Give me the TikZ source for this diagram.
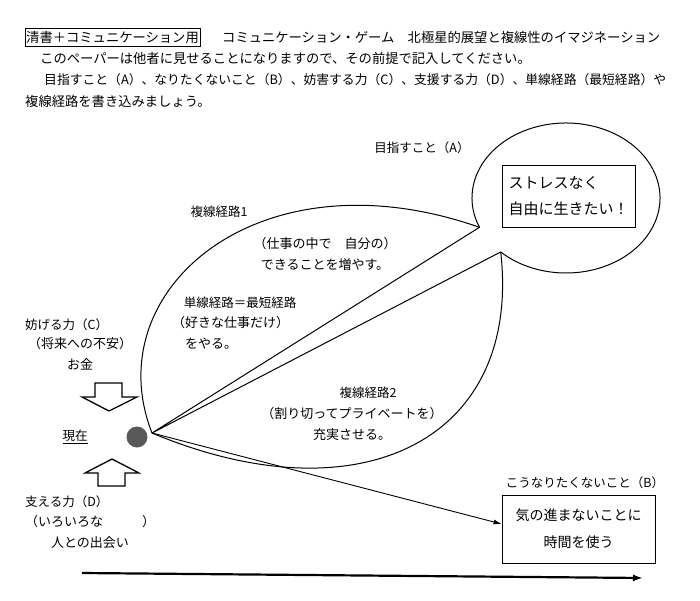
\documentclass[tikz,border=0pt]{standalone}
\usepackage{fontspec}
\setmainfont{Noto Sans CJK JP}
\usepackage{tikz}
\usetikzlibrary{arrows.meta, positioning, calc}

\begin{document}
\begin{tikzpicture}[x=1pt, y=-1pt]
        % Styles
        \tikzstyle{hdr} = [anchor=west, inner sep=0pt, font=\fontsize{13.3}{15}\selectfont]
        \tikzstyle{lbl} = [inner sep=0pt, font=\fontsize{12.5}{15}\selectfont]
        \tikzstyle{hand} = [inner sep=0pt, align=center, font=\fontsize{13}{21}\selectfont]
        \tikzstyle{box} = [draw, rectangle, line width=0.8pt]
        \tikzstyle{route} = [line width=1pt, line join=round]
        \tikzstyle{arrow} = [-{Latex[length=8pt, width=5pt]}, line width=0.9pt]
        \tikzstyle{timeline} = [-{Latex[length=10pt, width=7pt]}, line width=2.2pt]
        \tikzstyle{bigarrow} = [draw, line width=1.3pt, fill=white, line join=miter]

        \useasboundingbox (0,0) rectangle (700,601);

        % Header
        \node [hdr, draw, inner xsep=1pt, inner ysep=3pt] (mode) at (25,37) {清書＋コミュニケーション用};
        \node [hdr] (title) at (222,37) {コミュニケーション・ゲーム　北極星的展望と複線性のイマジネーション};
        \node [hdr] (intro) at (40,58) {このペーパーは他者に見せることになりますので、その前提で記入してください。};
        \node [hdr, font=\fontsize{12.8}{15}\selectfont] (task) at (44,80) {目指すこと（A）、なりたくないこと（B）、妨害する力（C）、支援する力（D）、単線経路（最短経路）や};
        \node [hdr] (task2) at (25,101) {複線経路を書き込みましょう。};

        % Points
        \coordinate (start) at (152,433);
        \coordinate (goalc) at (566,198);
        \coordinate (tailA) at ($(goalc)+(157:94 and 75)$);
        \coordinate (tailB) at ($(goalc)+(134:94 and 75)$);
        \coordinate (t0) at (82,573);
        \coordinate (t1) at (643,578);

        % Nodes
        \node [circle, fill=black!65, minimum size=21pt, inner sep=0pt] (now) at (137,437) {};
        \node [lbl] (nowlbl) at (75,437) {\underline{現在}};
        \node [lbl] (goallbl) at (422,148) {目指すこと（A）};
        \node [box, align=left, text width=120pt, inner xsep=6.5pt, minimum height=62pt,
               font=\fontsize{15}{26}\selectfont] (goal) at (568.5,196) {ストレスなく\\自由に生きたい！};
        \node [lbl] (avoidlbl) at (585,483) {こうなりたくないこと（B）};
        \node [box, align=center, minimum width=153pt, minimum height=68pt,
               font=\fontsize{14}{27}\selectfont] (avoid) at (578.5,529) {気の進まないことに\\時間を使う};

        \node [lbl] (multi1) at (219,212) {複線経路1};
        \node [hand] (multi1txt) at (325,254) {（仕事の中で　自分の）\\できることを増やす。};
        \node [lbl] (single) at (240,303) {単線経路＝最短経路};
        \node [hand, align=left, anchor=north west] (singletxt) at (172,316) {（好きな仕事だけ）\\\hspace{1em}をやる。};
        \node [lbl] (multi2) at (368,393) {複線経路2};
        \node [hand] (multi2txt) at (352,424) {（割り切ってプライベートを）\\充実させる。};

        \node [lbl, anchor=west] (hinder) at (25,325) {妨げる力（C）};
        \node [hand] (hindertxt) at (80,354) {（将来への不安）\\お金};
        \node [lbl, anchor=west] (support) at (25,502) {支える力（D）};
        \node [hand] (supporttxt) at (90,532) {（いろいろな　　　）\\人との出会い};

        % Block arrows
        \draw [bigarrow] (95,383) -- (122,383) -- (122,397) -- (137,397) -- (109,411) -- (82,397) -- (95,397) -- cycle;
        \draw [bigarrow] (98,486) -- (125,486) -- (125,473) -- (139,473) -- (112,459) -- (85,473) -- (98,473) -- cycle;

        % Routes
        \draw [route] (start) -- (tailA) arc[start angle=157, end angle=494, x radius=94, y radius=75] -- cycle;
        \draw [route] (start) .. controls (96,290) and (259,150) .. (tailA);
        \draw [route] (start) .. controls (360,520) and (522,440) .. (tailB);
        \draw [arrow] (start) -- ([yshift=5pt]avoid.west);

        % Time axis
        \draw [timeline] (t0) -- (t1);
\end{tikzpicture}
\end{document}
